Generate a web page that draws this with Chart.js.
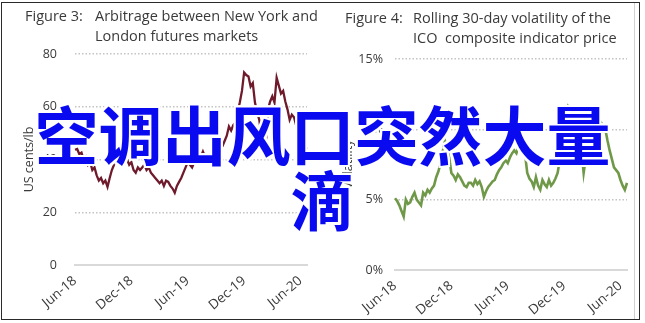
<!DOCTYPE html>
<html>
<head>
<meta charset="utf-8">
<script src="https://cdn.jsdelivr.net/npm/chart.js@4/dist/chart.umd.min.js"></script>
<style>
  html, body { margin: 0; padding: 0; background: #fff; }
  body { width: 645px; height: 323px; position: relative; overflow: hidden; font-family: "Open Sans", sans-serif; }
  .frame { position: absolute; left: 1px; top: 2px; width: 637px; height: 316px; border: 1px solid #2a2a2a; }
  .shade { position: absolute; left: 634px; top: 3px; width: 1px; height: 316px; background: #d0d0d0; }
  .panel { position: absolute; top: 0; height: 323px; }
  .title { position: absolute; font-size: 14.5px; color: #3a3a3a; white-space: nowrap; line-height: 20px; }
  .overlay {
    position: absolute; left: 0; width: 645px; top: 100px; text-align: center;
    font-family: "Noto Sans CJK SC", sans-serif; font-weight: 700; font-size: 64px; line-height: 65px;
    color: #0a0af0;
    text-shadow: 2px 0 #fff, -2px 0 #fff, 0 2px #fff, 0 -2px #fff, 2px 2px #fff, -2px -2px #fff, 2px -2px #fff, -2px 2px #fff;
  }
</style>
</head>
<body>
<div class="frame"></div>
<div class="shade"></div>
<div class="panel" style="left:0; width:330px;"><canvas id="arbChart"></canvas></div>
<div class="panel" style="left:330px; width:310px;"><canvas id="volChart"></canvas></div>

<div class="title" style="left:25px; top:6px;">Figure 3:</div>
<div class="title" style="left:95px; top:6px;">Arbitrage between New York and<br>London futures markets</div>
<div class="title" style="left:345px; top:8px;">Figure 4:</div>
<div class="title" style="left:413px; top:8px;">Rolling 30-day volatility of the<br>ICO&nbsp; composite indicator price</div>

<div class="overlay">空调出风口突然大量<br>滴</div>

<script>
// ==================== data ====================

// x tick labels, one every 26 weeks
const tickLabels = ['Jun-18', 'Dec-18', 'Jun-19', 'Dec-19', 'Jun-20'];

// weekly, Jun-18 .. Jul-20, US cents/lb
const arbitrage = [
    43.7, 44, 42, 42.6, 40, 41, 38, 39, 36, 37, 34,
    32, 33, 31, 32, 29.6, 33, 36, 38, 40, 41,
    42.6, 41, 43, 40, 38, 39, 36, 35, 37, 36,
    37, 38, 36, 37, 35, 34, 33, 32, 31, 32,
    30, 32, 31.5, 30, 29, 27.4, 30, 31.5, 33, 35,
    37, 39, 38, 37, 39, 41, 42.5, 41, 43, 41,
    40, 39, 38.5, 38, 44, 43, 44.5, 45, 47, 49,
    52.5, 51, 53, 54, 58, 61.6, 66, 73, 72, 71.5,
    67.7, 69, 61.6, 58, 55, 48.7, 47, 45.6, 59, 62,
    64, 61.6, 71, 68, 65, 66, 62, 59, 55, 57,
    56, 53, 50, 48, 46, 45, 44
];

// weekly, rolling 30-day volatility, %
const volatility = [
    5.1, 4.9, 4.6, 4.2, 3.8, 5.0, 4.7, 4.8, 5.2, 5.5, 5.0,
    4.8, 4.6, 5.5, 5.3, 5.7, 5.5, 5.8, 6.0, 6.6, 7.0,
    7.6, 8.4, 9.2, 8.6, 8.0, 6.9, 6.7, 6.4, 6.8, 6.6,
    6.3, 6.0, 5.9, 6.2, 6.2, 6.0, 6.4, 6.1, 6.3, 5.9,
    5.2, 5.6, 5.9, 6.1, 6.3, 6.4, 6.8, 7.1, 7.3, 7.6,
    7.8, 7.6, 8.0, 8.3, 8.5, 8.3, 8.8, 9.2, 9.5, 8.2,
    6.9, 6.5, 6.3, 5.9, 6.6, 6.0, 5.7, 6.4, 6.1, 5.9,
    6.4, 6.0, 6.2, 6.5, 6.9, 7.8, 8.2, 8.7, 9.2, 11.6,
    11.4, 11.2, 10.5, 10.3, 10.0, 8.5, 6.9, 8.0, 9.2, 10.7,
    10.4, 10.6, 10.2, 10.4, 10.5, 10.2, 10.0, 9.2, 8.5, 7.9,
    7.3, 7.1, 6.9, 6.4, 6.0, 5.7, 6.2
];

// ==================== charts ====================

const weeks = arbitrage.map((_, i) => i);
const textColor = '#3a3a3a';
const fontFamily = '"Open Sans", sans-serif';

function makeChart(id, values, color, lineWidth, yMax, yStep, yFmt, yTitle, box) {
    const ctx = document.getElementById(id).getContext('2d');
    return new Chart(ctx, {
        type: 'line',
        data: {
            labels: weeks,
            datasets: [{
                data: values,
                borderColor: color,
                borderWidth: lineWidth,
                pointRadius: 0,
                tension: 0,
                fill: false
            }]
        },
        options: {
            responsive: false,
            animation: false,
            events: [],
            layout: { padding: { left: 0, right: box.right, top: box.top, bottom: 0 } },
            plugins: { legend: { display: false }, tooltip: { enabled: false } },
            scales: {
                x: {
                    type: 'category',
                    offset: false,
                    grid: { display: false },
                    border: { display: true, color: '#d9d9d9', width: 2 },
                    ticks: {
                        autoSkip: false,
                        minRotation: 40,
                        maxRotation: 40,
                        padding: 0,
                        color: textColor,
                        font: { family: fontFamily, size: 13.5 },
                        callback: (v, i) => (i % 26 === 0 ? tickLabels[i / 26] : null)
                    },
                    afterFit: s => { s.height = box.xHeight; }
                },
                y: {
                    min: 0,
                    max: yMax,
                    grid: {
                        drawTicks: false,
                        color: c => (c.tick && c.tick.value === 0 ? 'rgba(0,0,0,0)' : '#c4c4c4'),
                        lineWidth: 1.5
                    },
                    border: { display: false, dash: [1.5, 2] },
                    ticks: {
                        stepSize: yStep,
                        padding: box.yPad,
                        color: textColor,
                        font: { family: fontFamily, size: 12.5 },
                        callback: yFmt
                    },
                    title: {
                        display: true,
                        text: yTitle,
                        color: textColor,
                        font: { family: fontFamily, size: 12.5 },
                        padding: { top: box.titleTop, bottom: 0 }
                    },
                    afterFit: s => { s.width = box.yWidth; }
                }
            }
        }
    });
}

document.getElementById('arbChart').width = 330;
document.getElementById('arbChart').height = 323;
document.getElementById('volChart').width = 310;
document.getElementById('volChart').height = 323;

makeChart('arbChart', arbitrage, '#6e1a2b', 2.3, 80, 20, v => v, 'US cents/lb',
    { right: 23, top: 54, xHeight: 58, yWidth: 75, yPad: 18, titleTop: 22 });

makeChart('volChart', volatility, '#6f9848', 2.6, 15, 5, v => v + '%', 'Volatility',
    { right: 13, top: 59, xHeight: 53, yWidth: 65, yPad: 12, titleTop: 11 });
</script>
</body>
</html>
